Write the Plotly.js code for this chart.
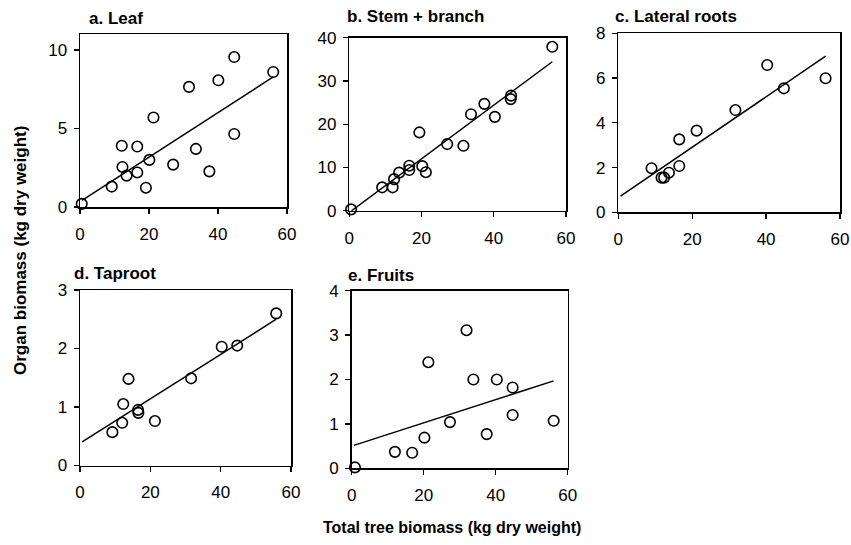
<!DOCTYPE html>
<html>
<head>
<meta charset="utf-8">
<script src="https://cdn.plot.ly/plotly-3.0.1.min.js"></script>
<style>html,body{margin:0;padding:0;background:#fff;}#chart{width:851px;height:545px;}</style>
</head>
<body>
<div id="chart"></div>
<script>
// ---- data ----
const panelTitles = ["a. Leaf", "b. Stem + branch", "c. Lateral roots", "d. Taproot", "e. Fruits"];
const xTitle = "Total tree biomass (kg dry weight)";
const yTitle = "Organ biomass (kg dry weight)";

const leafTotal = [0.5, 9.2, 12.1, 12.3, 13.5, 16.6, 16.6, 19.1, 20.1, 21.3, 27.0, 31.6, 33.6, 37.5, 40.1, 44.7, 44.7, 56.0];
const leafMass  = [0.2, 1.3, 3.9, 2.55, 2.0, 3.85, 2.2, 1.23, 3.0, 5.7, 2.7, 7.65, 3.7, 2.27, 8.07, 9.55, 4.65, 8.6];

const stemTotal = [0.5, 9.1, 12.0, 12.4, 13.8, 16.6, 16.6, 19.4, 20.2, 21.2, 27.1, 31.6, 33.7, 37.4, 40.3, 44.8, 44.7, 56.2];
const stemMass  = [0.3, 5.4, 5.4, 7.3, 8.8, 9.4, 10.4, 18.1, 10.3, 8.9, 15.4, 15.0, 22.3, 24.7, 21.7, 26.6, 25.8, 37.9];

const latTotal = [9.0, 11.7, 12.4, 13.7, 16.5, 16.5, 21.2, 31.7, 40.3, 44.8, 56.1];
const latMass  = [1.97, 1.55, 1.55, 1.77, 3.26, 2.07, 3.65, 4.57, 6.58, 5.54, 5.99];

const tapTotal = [9.2, 12.0, 12.3, 13.8, 16.5, 16.6, 21.3, 31.6, 40.3, 44.7, 55.8];
const tapMass  = [0.57, 0.73, 1.05, 1.48, 0.95, 0.90, 0.76, 1.49, 2.03, 2.05, 2.6];

const fruitTotal = [0.9, 12.0, 16.8, 20.2, 21.3, 27.3, 31.9, 33.8, 37.5, 40.3, 44.7, 44.7, 56.1];
const fruitMass  = [0.02, 0.37, 0.35, 0.69, 2.39, 1.04, 3.11, 2.0, 0.77, 2.0, 1.82, 1.2, 1.07];

// fitted trend lines (slope, intercept)
const fitSlopes     = [0.142, 0.62, 0.1128, 0.038, 0.0262];
const fitIntercepts = [0.33, -0.4, 0.65, 0.38, 0.50];
const fitStart = 0.6;

const yMax   = [11, 40, 8, 3, 4];
const yDtick = [5, 10, 2, 1, 1];
const xMax = 60, xDtick = 20;

// ---- layout geometry (pixels) ----
const W = 851, H = 545;
const boxes = [
  [80, 287, 34.3, 207],
  [349.3, 566, 37.7, 210.7],
  [618.3, 840, 33.3, 212.3],
  [80, 291, 290, 465.5],
  [351.7, 567.7, 290.7, 468.3]
];
const titlePos = [[87, 18], [345, 17], [612.7, 17], [72, 273], [346, 275]];

const series = [
  [leafTotal, leafMass], [stemTotal, stemMass], [latTotal, latMass],
  [tapTotal, tapMass], [fruitTotal, fruitMass]
];

const FONT = "Liberation Sans, Arial, sans-serif";
const traces = [];
const layout = {
  width: W, height: H,
  margin: {l: 0, r: 0, t: 0, b: 0},
  paper_bgcolor: "#fff", plot_bgcolor: "#fff",
  showlegend: false,
  font: {family: FONT, size: 17, color: "#000"},
  annotations: []
};

series.forEach(([xs, ys], i) => {
  const n = i + 1;
  const xa = n === 1 ? "x" : "x" + n;
  const ya = n === 1 ? "y" : "y" + n;
  traces.push({
    type: "scatter", mode: "markers", x: xs, y: ys, xaxis: xa, yaxis: ya,
    cliponaxis: false,
    marker: {symbol: "circle-open", size: 10.5, color: "#000", line: {width: 1.6, color: "#000"}},
    hoverinfo: "skip"
  });
  const xEnd = Math.max(...xs);
  const lx = [fitStart, xEnd];
  const ly = lx.map(v => fitIntercepts[i] + fitSlopes[i] * v);
  traces.push({
    type: "scatter", mode: "lines", x: lx, y: ly, xaxis: xa, yaxis: ya,
    cliponaxis: false,
    line: {color: "#000", width: 1.5}, hoverinfo: "skip"
  });
  const [x0, x1, yt, yb] = boxes[i];
  const axCommon = {
    showgrid: false, zeroline: false, showline: true, mirror: true,
    linecolor: "#000", linewidth: 1.5, ticks: "outside", ticklen: 5,
    tickwidth: 1.3, tickcolor: "#000", tickfont: {family: FONT, size: 17, color: "#000"},
    fixedrange: true
  };
  layout[n === 1 ? "xaxis" : "xaxis" + n] = Object.assign({}, axCommon, {
    domain: [x0 / W, x1 / W], anchor: ya, range: [0, xMax], dtick: xDtick, tick0: 0,
    ticklabelstandoff: 6
  });
  layout[n === 1 ? "yaxis" : "yaxis" + n] = Object.assign({}, axCommon, {
    domain: [1 - yb / H, 1 - yt / H], anchor: xa, range: [0, yMax[i]], dtick: yDtick[i], tick0: 0,
    ticklabelstandoff: 3
  });
  layout.annotations.push({
    text: "<b>" + panelTitles[i] + "</b>", xref: "paper", yref: "paper",
    x: titlePos[i][0] / W, y: 1 - titlePos[i][1] / H, xanchor: "left", yanchor: "middle",
    showarrow: false, font: {family: FONT, size: 17, color: "#000"}
  });
});

layout.annotations.push({
  text: "<b>" + xTitle + "</b>", xref: "paper", yref: "paper",
  x: 452 / W, y: 1 - 527 / H, xanchor: "center", yanchor: "middle",
  showarrow: false, font: {family: FONT, size: 16, color: "#000"}
});
layout.annotations.push({
  text: "<b>" + yTitle + "</b>", xref: "paper", yref: "paper",
  x: 20 / W, y: 1 - 251 / H, xanchor: "center", yanchor: "middle", textangle: -90,
  showarrow: false, font: {family: FONT, size: 17, color: "#000"}
});

Plotly.newPlot("chart", traces, layout, {staticPlot: true, displayModeBar: false});
</script>
</body>
</html>
